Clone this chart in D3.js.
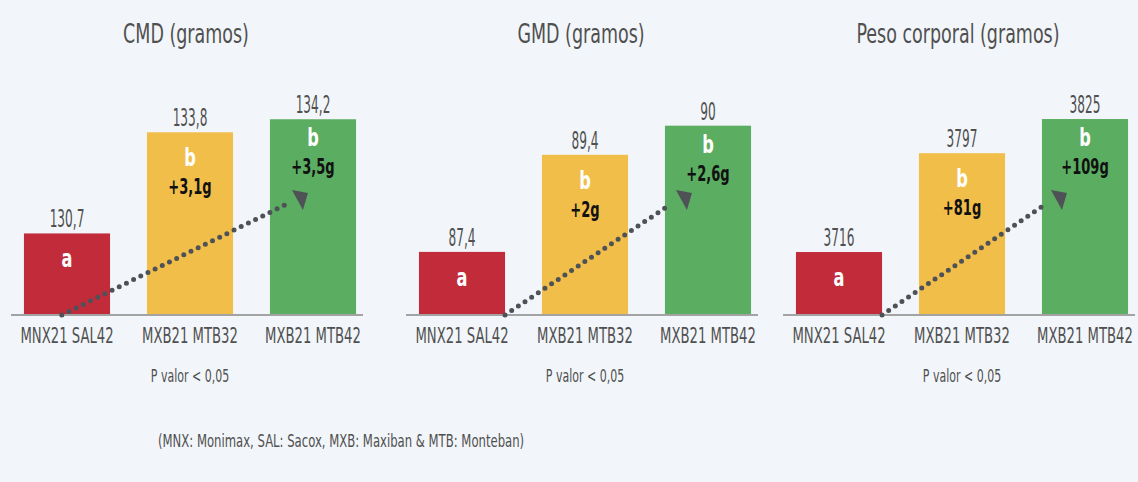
<!DOCTYPE html>
<html>
    <head>
        <meta charset="utf-8">
        <title>CMD GMD Peso corporal</title>
        <script src="https://cdn.jsdelivr.net/npm/d3@7"></script>
        <style>
            body {
                margin: 0;
                background: #f2f6fa;
            }
            text {
                font-family: "DejaVu Sans Condensed", "DejaVu Sans", sans-serif;
                font-stretch: condensed;
            }
            .axis-line {
                stroke: #a3a3a3;
                stroke-width: 2;
                shape-rendering: crispEdges;
            }
        </style>
    </head>
    <body>
        <div id="chart"></div>
        <script>
            var width = 1138, height = 482;

            // data
            const categories = ["MNX21 SAL42", "MXB21 MTB32", "MXB21 MTB42"];
            const panelTitles = ["CMD (gramos)", "GMD (gramos)", "Peso corporal (gramos)"];
            const cmdValues = [130.7, 133.8, 134.2];
            const gmdValues = [87.4, 89.4, 90];
            const pesoValues = [3716, 3797, 3825];
            const sigLetters = ["a", "b", "b"];
            const cmdGains = ["", "+3,1g", "+3,5g"];
            const gmdGains = ["", "+2g", "+2,6g"];
            const pesoGains = ["", "+81g", "+109g"];
            const pNote = "P valor < 0,05";
            const footnote = "(MNX: Monimax, SAL: Sacox, MXB: Maxiban & MTB: Monteban)";

            const colors = ["#c12b3a", "#f1be4a", "#5bad62"];

            // each panel: value axis is cut (bars start at yMin, yMax sits 200px up)
            const panels = [
                {title: panelTitles[0], values: cmdValues, gains: cmdGains, x0: 5.5, yMin: 128.2, yMax: 134.33, arrowFrom: 0.44, tipDx: 38},
                {title: panelTitles[1], values: gmdValues, gains: gmdGains, x0: 400.5, yMin: 86.1, yMax: 90.22, arrowFrom: 1, tipDx: 27},
                {title: panelTitles[2], values: pesoValues, gains: pesoGains, x0: 777.5, yMin: 3664.4, yMax: 3828.3, arrowFrom: 1, tipDx: 25}
            ];

            var baseline = 315;
            var letterDy = [34, 34, 27];
            var textColor = "#505050";

            var es = d3.formatLocale({decimal: ",", thousands: ".", grouping: [3], currency: ["", ""]});
            var fmt = es.format("~f");

            var svg = d3.select("#chart")
                .append("svg")
                .attr("width", width)
                .attr("height", height);

            // the original font is very narrow, so squeeze the text sideways
            function squeeze(sel, fx, fy, sx) {
                return sel.attr("transform", function (d, i) {
                    return "translate(" + fx(d, i) + "," + fy(d, i) + ") scale(" + sx + ",1)";
                });
            }

            panels.forEach(function (p) {
                var xScale = d3.scaleBand()
                    .domain(categories)
                    .range([p.x0, p.x0 + 369])
                    .paddingInner(0.3)
                    .paddingOuter(0.15);

                var yScale = d3.scaleLinear()
                    .domain([p.yMin, p.yMax])
                    .range([baseline, baseline - 200]);

                var g = svg.append("g");
                var cx = function (i) { return xScale(categories[i]) + xScale.bandwidth() / 2; };

                // title
                squeeze(g.append("text"), function () { return cx(1) - 4; }, function () { return 43; }, 0.72)
                    .attr("text-anchor", "middle")
                    .attr("font-size", 27)
                    .attr("fill", textColor)
                    .text(p.title);

                // bars
                g.selectAll("rect")
                    .data(p.values)
                    .enter()
                    .append("rect")
                    .attr("x", function (d, i) { return xScale(categories[i]); })
                    .attr("y", function (d) { return yScale(d); })
                    .attr("width", xScale.bandwidth())
                    .attr("height", function (d) { return baseline - yScale(d); })
                    .attr("fill", function (d, i) { return colors[i]; });

                // axis line
                g.append("line")
                    .attr("class", "axis-line")
                    .attr("x1", xScale(categories[0]) - 13)
                    .attr("x2", xScale(categories[2]) + xScale.bandwidth() + 7)
                    .attr("y1", baseline)
                    .attr("y2", baseline);

                // value labels
                squeeze(g.selectAll(".val")
                    .data(p.values)
                    .enter()
                    .append("text")
                    .attr("class", "val"),
                    function (d, i) { return cx(i); },
                    function (d) { return yScale(d) - 6; }, 0.54)
                    .attr("text-anchor", "middle")
                    .attr("font-size", 25)
                    .attr("fill", textColor)
                    .text(function (d) { return fmt(d); });

                // significance letters
                squeeze(g.selectAll(".sig")
                    .data(sigLetters)
                    .enter()
                    .append("text")
                    .attr("class", "sig"),
                    function (d, i) { return cx(i); },
                    function (d, i) { return yScale(p.values[i]) + letterDy[i]; }, 0.75)
                    .attr("text-anchor", "middle")
                    .attr("font-size", 24)
                    .attr("font-weight", "bold")
                    .attr("fill", "#ffffff")
                    .text(function (d) { return d; });

                // gains
                squeeze(g.selectAll(".gain")
                    .data(p.gains)
                    .enter()
                    .append("text")
                    .attr("class", "gain"),
                    function (d, i) { return cx(i); },
                    function (d, i) { return yScale(p.values[i]) + letterDy[i] + 28; }, 0.66)
                    .attr("text-anchor", "middle")
                    .attr("font-size", 22)
                    .attr("font-weight", "bold")
                    .attr("fill", "#111111")
                    .text(function (d) { return d; });

                // dotted arrow
                var sx = xScale(categories[0]) + xScale.bandwidth() * p.arrowFrom;
                var tipX = xScale(categories[2]) + p.tipDx, tipY = baseline - 122;
                g.append("line")
                    .attr("x1", sx)
                    .attr("y1", baseline)
                    .attr("x2", tipX - 21)
                    .attr("y2", tipY + 11)
                    .attr("stroke", "#4e5257")
                    .attr("stroke-width", 5)
                    .attr("stroke-linecap", "round")
                    .attr("stroke-dasharray", "0 8");
                g.append("path")
                    .attr("d", d3.line()([[tipX - 16, tipY - 3], [tipX, tipY], [tipX - 5, tipY + 17]]) + "Z")
                    .attr("fill", "#4e5257");

                // category labels
                squeeze(g.selectAll(".cat")
                    .data(categories)
                    .enter()
                    .append("text")
                    .attr("class", "cat"),
                    function (d, i) { return cx(i); },
                    function () { return baseline + 28; }, 0.7)
                    .attr("text-anchor", "middle")
                    .attr("font-size", 21)
                    .attr("fill", textColor)
                    .text(function (d) { return d; });

                // p value
                squeeze(g.append("text"), function () { return cx(1); }, function () { return 382; }, 0.72)
                    .attr("text-anchor", "middle")
                    .attr("font-size", 17)
                    .attr("fill", textColor)
                    .text(pNote);
            });

            squeeze(svg.append("text"), function () { return 158; }, function () { return 447; }, 0.72)
                .attr("font-size", 18)
                .attr("fill", textColor)
                .text(footnote);
        </script>
    </body>
</html>
